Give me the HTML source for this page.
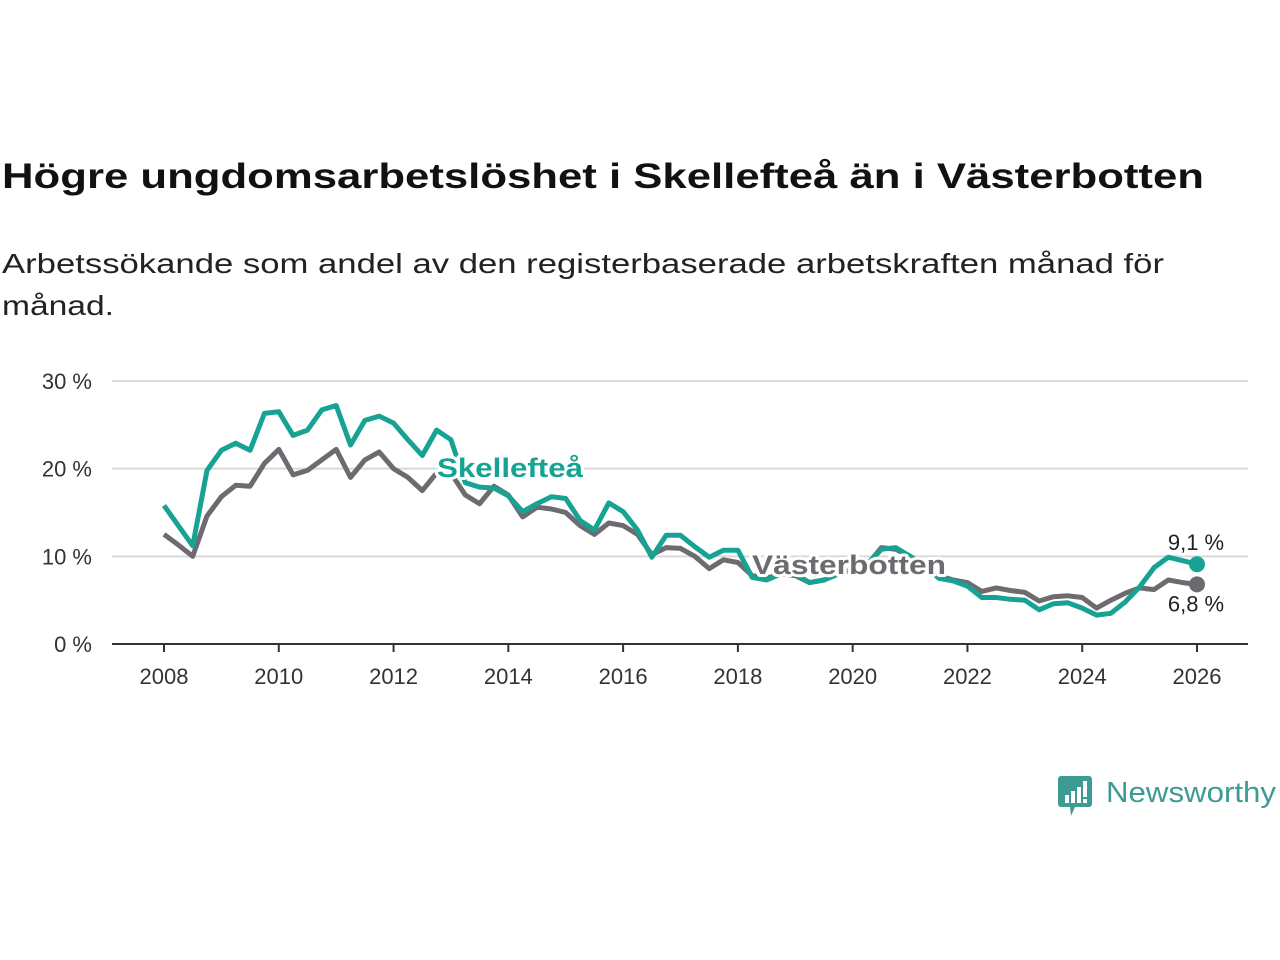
<!DOCTYPE html>
<html><head><meta charset="utf-8">
<style>
body{margin:0;background:#fff;}
svg{display:block;font-family:"Liberation Sans",sans-serif;}
</style></head>
<body>
<svg id="chart" width="1280" height="960" viewBox="0 0 1280 960" xmlns="http://www.w3.org/2000/svg">
<rect width="1280" height="960" fill="#fff"/>
<text x="2" y="188" font-size="35" font-weight="bold" fill="#111" textLength="1202" lengthAdjust="spacingAndGlyphs">Högre ungdomsarbetslöshet i Skellefteå än i Västerbotten</text>
<text x="2" y="273" font-size="28" fill="#222" textLength="1162" lengthAdjust="spacingAndGlyphs">Arbetssökande som andel av den registerbaserade arbetskraften månad för</text>
<text x="2" y="315" font-size="28" fill="#222" textLength="112" lengthAdjust="spacingAndGlyphs">månad.</text>
<g id="grid"></g>
<g id="yaxis"></g>
<g id="xaxis"></g>
<g id="series"></g>
<g id="labels"></g>
<g>
<path d="M1061 776 h28 a3 3 0 0 1 3 3 v25 a3 3 0 0 1 -3 3 h-14 l-4 9 l-1 -9 h-9 a3 3 0 0 1 -3 -3 v-25 a3 3 0 0 1 3 -3z" fill="#3d9b94"/>
<rect x="1065" y="795" width="4" height="8" fill="#fff"/>
<rect x="1071" y="791" width="4" height="12" fill="#fff"/>
<rect x="1077" y="787" width="4" height="16" fill="#fff"/>
<rect x="1083" y="781" width="4" height="16" fill="#fff"/>
<rect x="1083" y="799" width="4" height="4" fill="#fff"/>
<text x="1106" y="802" font-size="29" fill="#3d9b94" textLength="170" lengthAdjust="spacingAndGlyphs">Newsworthy</text>
</g>
</svg>
<script>
const startYear = 2008;
const stepYears = 0.25;
const skelleftea = [15.8,13.5,11.2,19.8, 22.1,22.9,22.1,26.3, 26.5,23.8,24.4,26.7, 27.2,22.7,25.5,26.0, 25.2,23.3,21.5,24.4, 23.3,18.4,17.9,17.8, 16.9,15.1,16.0,16.8, 16.6,14.1,13.0,16.1, 15.1,13.0,9.9,12.4, 12.4,11.1,9.9,10.7, 10.7,7.6,7.3,8.0, 8.0,7.0,7.3,8.0, 8.5,9.0,10.8,11.0, 10.0,9.0,7.5,7.2, 6.6,5.3,5.3,5.1, 5.0,3.9,4.6,4.7, 4.1,3.3,3.5,4.8, 6.5,8.7,9.9,9.5, 9.1];
const vasterbotten = [12.5,11.3,10.0,14.6, 16.8,18.1,18.0,20.6, 22.2,19.3,19.8,21.0, 22.2,19.0,21.0,21.9, 20.0,19.0,17.5,19.5, 19.5,17.0,16.0,18.0, 17.0,14.5,15.6,15.4, 15.0,13.5,12.5,13.8, 13.5,12.5,10.2,11.0, 10.9,10.0,8.6,9.6, 9.3,7.8,7.5,8.0, 7.8,7.0,7.3,8.0, 8.5,9.0,11.0,10.8, 10.0,9.0,7.8,7.3, 7.0,6.0,6.4,6.1, 5.9,4.9,5.4,5.5, 5.3,4.1,5.0,5.8, 6.4,6.2,7.3,7.0, 6.8];
const yTicks = [0,10,20,30];
const yTickLabels = ["0 %","10 %","20 %","30 %"];
const xTicks = [2008,2010,2012,2014,2016,2018,2020,2022,2024,2026];
const endLabels = ["9,1 %","6,8 %"];

const NS = "http://www.w3.org/2000/svg";
function x(yr){ return 164 + (yr - 2008) * (1197 - 164) / 18; }
function y(v){ return 644 - v * (644 - 381) / 30; }
function mk(tag, attrs, parent){
  const e = document.createElementNS(NS, tag);
  for (const k in attrs) e.setAttribute(k, attrs[k]);
  parent.appendChild(e); return e;
}
const grid = document.getElementById('grid'), yax = document.getElementById('yaxis'),
      xax = document.getElementById('xaxis'), ser = document.getElementById('series'),
      lab = document.getElementById('labels');

yTicks.forEach((t,i)=>{
  if (t !== 0) {
    const l = mk('line',{x1:112,x2:1248,y1:y(t),y2:y(t),stroke:'#d9d9d9','stroke-width':2},grid);
    
    
  }
  const tx = mk('text',{x:92,y:y(t)+8,'font-size':22,fill:'#333','text-anchor':'end'},yax);
  tx.textContent = yTickLabels[i];
  
  
});
const axl = mk('line',{x1:112,x2:1248,y1:y(0),y2:y(0),stroke:'#333','stroke-width':2},xax);


xTicks.forEach(t=>{
  const tk = mk('line',{x1:x(t),x2:x(t),y1:644,y2:652,stroke:'#333','stroke-width':2},xax);
  
  
  const tx = mk('text',{x:x(t),y:684,'font-size':22,fill:'#333','text-anchor':'middle'},xax);
  tx.textContent = t;
  
  
});
function line(arr, color, name){
  const d = arr.map((v,i)=>(i?'L':'M')+x(startYear+i*stepYears).toFixed(1)+' '+y(v).toFixed(1)).join(' ');
  const p = mk('path',{d:d,fill:'none',stroke:color,'stroke-width':5,'stroke-linejoin':'round'},ser);
  
  
  const n = arr.length-1;
  const c = mk('circle',{cx:x(startYear+n*stepYears),cy:y(arr[n]),r:8,fill:color},ser);
  
  
}
line(vasterbotten,'#6d6b70','vasterbotten-line');
line(skelleftea,'#16a393','skelleftea-line');

function label(txt, xx, yy, color, name, size, weight, anchor, len){
  const t = mk('text',{x:xx,y:yy,'font-size':size,'font-weight':weight,fill:color,stroke:'#fff','stroke-width':6,'paint-order':'stroke','stroke-linejoin':'round','text-anchor':anchor},lab);
  if (len) { t.setAttribute('textLength', len); t.setAttribute('lengthAdjust','spacingAndGlyphs'); }
  t.textContent = txt;
  
  
}
label('Skellefteå',437,477,'#16a393','skelleftea-label',27,'bold','start',146);
label('Västerbotten',752,574,'#6d6b70','vasterbotten-label',27,'bold','start',194);
const nEnd = skelleftea.length-1;
label(endLabels[0],1196,y(skelleftea[nEnd])-14,'#222','skelleftea-end-value',22,'normal','middle');
label(endLabels[1],1196,y(vasterbotten[nEnd])+27,'#222','vasterbotten-end-value',22,'normal','middle');
</script>
</body></html>
